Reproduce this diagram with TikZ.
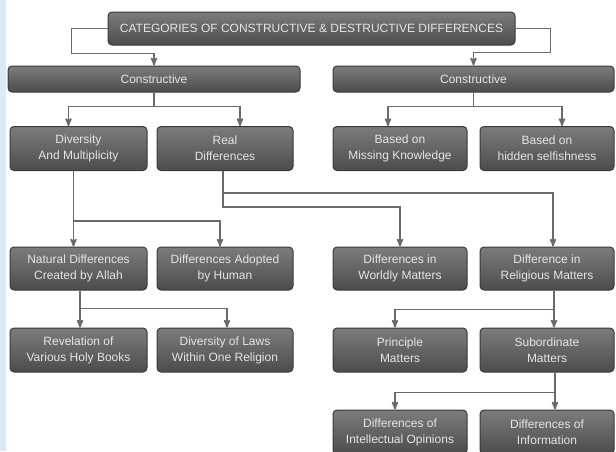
\documentclass[tikz,border=0pt]{standalone}
\usepackage{fontspec}
\setmainfont{Liberation Sans}
\usetikzlibrary{arrows}
\definecolor{boxtop}{HTML}{7C7C7C}
\definecolor{boxbot}{HTML}{4C4C4C}
\definecolor{boxline}{HTML}{3A3A3A}
\definecolor{linkgray}{HTML}{6A6A6A}
\definecolor{stripblue}{HTML}{DCEAF6}
\tikzstyle{cat}=[draw=boxline,line width=1pt,rounded corners=4pt,top color=boxtop,bottom color=boxbot,text=white!90!black,align=center,inner sep=0pt,font=\fontsize{12}{16}\selectfont]
\tikzstyle{bar}=[cat,minimum height=26pt]
\tikzstyle{item}=[cat,minimum width=135pt,minimum height=44pt]
\tikzstyle{link}=[draw=linkgray,line width=1.6pt,->,>=stealth']

\begin{document}
\begin{tikzpicture}[x=1pt,y=-1pt]
    \useasboundingbox (0,0) rectangle (616,451);
    \fill[white] (0,0) rectangle (616,451);
    \fill[stripblue] (0,0) rectangle (6,451);

    \node[cat,minimum width=407pt,minimum height=33pt] (title) at (311.5,28.5) {CATEGORIES OF CONSTRUCTIVE \& DESTRUCTIVE DIFFERENCES};
    \node[bar,minimum width=292pt] (conL) at (154,79) {Constructive};
    \node[bar,minimum width=281pt] (conR) at (473.5,79) {Constructive};

    \node[item,minimum width=137pt] (div) at (78.5,148.5) {Diversity\\And Multiplicity};
    \node[item,minimum width=136pt] (real) at (225,148.5) {Real\\Differences};
    \node[item,minimum width=134pt] (miss) at (400,148.5) {Based on\\Missing Knowledge};
    \node[item,minimum width=134pt] (hid) at (547,148.5) {Based on\\hidden selfishness};

    \node[item,minimum width=137pt,minimum height=43pt] (nat) at (78.5,268.5) {Natural Differences\\Created by Allah};
    \node[item,minimum width=136pt,minimum height=43pt] (adopt) at (225,268.5) {Differences Adopted\\by Human};
    \node[item,minimum width=134pt,minimum height=43pt] (world) at (400,268.5) {Differences in\\Worldly Matters};
    \node[item,minimum width=134pt,minimum height=43pt] (relig) at (547,268.5) {Difference in\\Religious Matters};

    \node[item,minimum width=137pt] (rev) at (78.5,350) {Revelation of\\Various Holy Books};
    \node[item,minimum width=136pt] (laws) at (225,350) {Diversity of Laws\\Within One Religion};
    \node[item,minimum width=134pt] (princ) at (400,350) {Principle\\Matters};
    \node[item,minimum width=134pt] (sub) at (547,350) {Subordinate\\Matters};

    \node[item,minimum width=134pt] (intel) at (400,432) {Differences of\\Intellectual Opinions};
    \node[item,minimum width=134pt] (info) at (547,432) {Differences of\\Information};

    \draw[link] (title.west) -- ++(-36,0) -- ++(0,25) -| (conL.north);
    \draw[link] (title.east) -- ++(35,0) -- ++(0,24) -| (conR.north);

    \draw[link] (conL.south) -- ++(0,14) -| ([xshift=-10pt]div.north);
    \draw[link] (conL.south) -- ++(0,14) -| ([xshift=15pt]real.north);
    \draw[link] (conR.south) -- ++(0,14) -| ([xshift=-12pt]miss.north);
    \draw[link] (conR.south) -- ++(0,14) -| ([xshift=15pt]hid.north);

    \draw[link] ([xshift=-5pt]div.south) -- ([xshift=-5pt]nat.north);
    \draw[link] ([xshift=-5pt]div.south) -- ++(0,50) -| ([xshift=-5pt]adopt.north);
    \draw[link] ([xshift=-2pt]real.south) -- ++(0,22) -| ([xshift=6pt]relig.north);
    \draw[link] ([xshift=-2pt]real.south) -- ++(0,36) -| (world.north);

    \draw[link] ([xshift=1.5pt]nat.south) -- ([xshift=1.5pt]rev.north);
    \draw[link] ([xshift=1.5pt]nat.south) -- ++(0,18) -| ([xshift=2pt]laws.north);
    \draw[link] ([xshift=7pt]relig.south) -- ([xshift=7pt]sub.north);
    \draw[link] ([xshift=7pt]relig.south) -- ++(0,19) -| ([xshift=-5pt]princ.north);

    \draw[link] ([xshift=8pt]sub.south) -- ([xshift=8pt]info.north);
    \draw[link] ([xshift=8pt]sub.south) -- ++(0,20) -| ([xshift=-5pt]intel.north);
\end{tikzpicture}
\end{document}
